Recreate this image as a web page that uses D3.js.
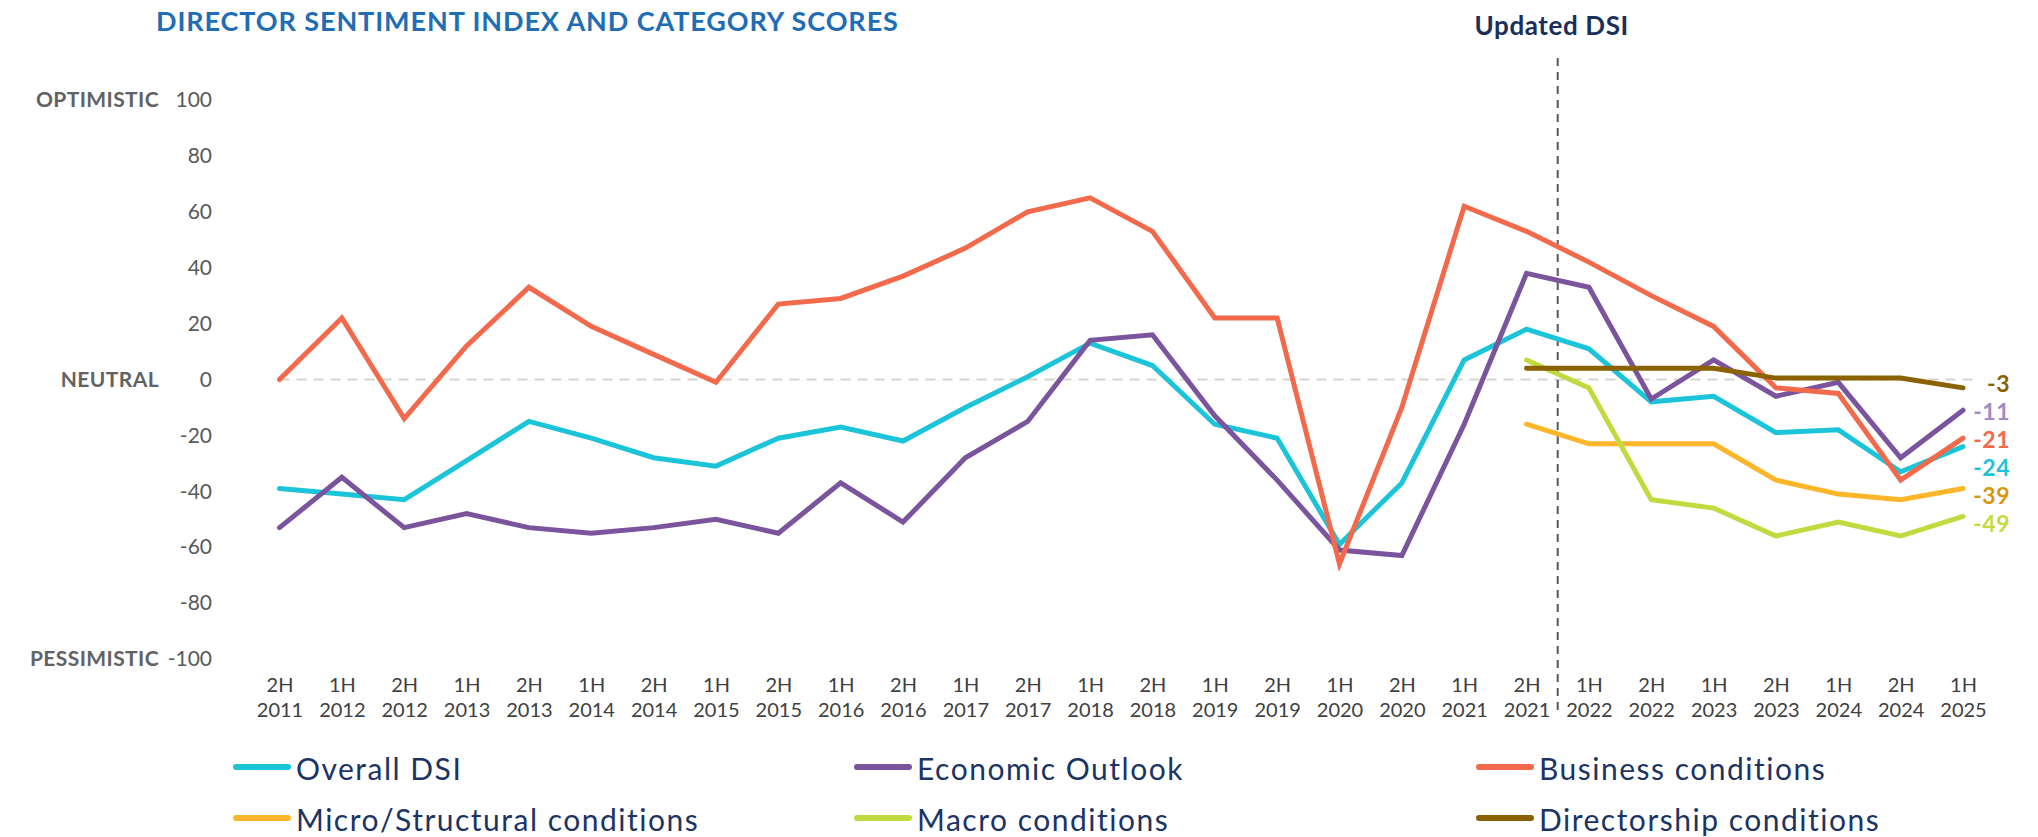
<!DOCTYPE html>
<html>
<head>
<meta charset="utf-8">
<script src="https://d3js.org/d3.v7.min.js"></script>
<style>
  body { margin: 0; background: #fff; }
  text { font-family: Lato, "Open Sans", sans-serif; }
</style>
</head>
<body>
<div id="my_dataviz"></div>
<script>
// periods on the x axis
var periods = ["2H 2011","1H 2012","2H 2012","1H 2013","2H 2013","1H 2014","2H 2014","1H 2015",
  "2H 2015","1H 2016","2H 2016","1H 2017","2H 2017","1H 2018","2H 2018","1H 2019","2H 2019",
  "1H 2020","2H 2020","1H 2021","2H 2021","1H 2022","2H 2022","1H 2023","2H 2023","1H 2024",
  "2H 2024","1H 2025"];

// series values (null = not measured yet)
var overallDSI = [-39,-41,-43,-29,-15,-21,-28,-31,-21,-17,-22,-10,1,13,5,-16,-21,-59,-37,7,18,11,-8,-6,-19,-18,-33,-24];
var economicOutlook = [-53,-35,-53,-48,-53,-55,-53,-50,-55,-37,-51,-28,-15,14,16,-13,-36,-61,-63,-16,38,33,-7,7,-6,-1,-28,-11];
var businessConditions = [0,22,-14,12,33,19,9,-1,27,29,37,47,60,65,53,22,22,-66,-10,62,53,42,30,19,-3,-5,-36,-21];
var microConditions = [null,null,null,null,null,null,null,null,null,null,null,null,null,null,null,null,null,
  null,null,null,-16,-23,-23,-23,-36,-41,-43,-39];
var macroConditions = [null,null,null,null,null,null,null,null,null,null,null,null,null,null,null,null,null,
  null,null,null,7,-3,-43,-46,-56,-51,-56,-49];
var directorshipConditions = [null,null,null,null,null,null,null,null,null,null,null,null,null,null,null,null,null,
  null,null,null,4,4,4,4,0.5,0.5,0.5,-3];

var seriesNames = ["Overall DSI","Economic Outlook","Business conditions",
  "Micro/Structural conditions","Macro conditions","Directorship conditions"];
var seriesColors = ["#1CC4D9","#7A559D","#F26A4B","#FDB52A","#C2D93F","#8A6200"];
var labelColors = ["#1CC4D9","#A08AC6","#F26A4B","#D8960F","#C2D93F","#8A6200"];
var seriesValues = [overallDSI, economicOutlook, businessConditions,
  microConditions, macroConditions, directorshipConditions];

var yTicks = [100,80,60,40,20,0,-20,-40,-60,-80,-100];
var sideLabels = [[100,"OPTIMISTIC"],[0,"NEUTRAL"],[-100,"PESSIMISTIC"]];
var updatedAfter = "2H 2021";

var width = 2038, height = 837;

// plain hyphen for negatives, like the original
var fmt = d => (d < 0 ? "-" : "") + Math.round(Math.abs(d));

var svg = d3.select("#my_dataviz")
  .append("svg")
    .attr("width", width)
    .attr("height", height)

svg.append("rect").attr("width", width).attr("height", height).attr("fill", "#fff")

// scales
var x = d3.scalePoint()
  .domain(periods)
  .range([279.5, 1963]);

var y = d3.scaleLinear()
  .domain([-100, 100])
  .range([659, 100]);

// title
svg.append("text")
  .attr("x", 156)
  .attr("y", 31)
  .style("font-size", "27px")
  .style("letter-spacing", "0.9px")
  .style("font-weight", "bold")
  .style("fill", "#1F6DB5")
  .text("DIRECTOR SENTIMENT INDEX AND CATEGORY SCORES");

// y axis labels (no axis line)
var yAxis = svg.append("g")
  .attr("transform", "translate(212,0)")
  .call(d3.axisLeft(y).tickValues(yTicks).tickSize(0).tickPadding(0).tickFormat(fmt));
yAxis.select(".domain").remove();
yAxis.selectAll("text")
  .style("font-family", "Lato, sans-serif")
  .style("font-size", "21px")
  .style("fill", "#595959");

svg.selectAll(".side")
  .data(sideLabels)
  .enter()
  .append("text")
    .attr("x", 159)
    .attr("y", d => y(d[0]))
    .attr("dy", "0.35em")
    .attr("text-anchor", "end")
    .style("font-size", "21px")
    .style("letter-spacing", "0.4px")
    .style("font-weight", "bold")
    .style("fill", "#626262")
    .text(d => d[1]);

// x axis labels on two lines
var xAxis = svg.append("g")
  .attr("transform", "translate(0,672)")
  .call(d3.axisBottom(x).tickSize(0).tickPadding(0).tickFormat(""));
xAxis.select(".domain").remove();
xAxis.selectAll(".tick").append("text")
  .attr("text-anchor", "middle")
  .style("font-size", "20px")
  .style("fill", "#404040")
  .selectAll("tspan")
  .data(d => d.split(" "))
  .enter()
  .append("tspan")
    .attr("x", 0)
    .attr("y", (d, i) => i * 25 + 20)
    .text(d => d);

// neutral line
svg.append("line")
  .attr("x1", x(periods[0]))
  .attr("x2", x(periods[periods.length - 1]) + 12)
  .attr("y1", y(0))
  .attr("y2", y(0))
  .style("stroke", "#D6D4CC")
  .style("stroke-width", 2)
  .style("stroke-dasharray", "10,7");

// updated DSI marker
var updX = x(updatedAfter) + x.step() / 2;
svg.append("line")
  .attr("x1", updX)
  .attr("x2", updX)
  .attr("y1", 58)
  .attr("y2", 711)
  .style("stroke", "#595959")
  .style("stroke-width", 2)
  .style("stroke-dasharray", "8,6");

svg.append("text")
  .attr("x", updX - 6)
  .attr("y", 35)
  .attr("text-anchor", "middle")
  .style("font-size", "26px")
  .style("letter-spacing", "0.6px")
  .style("font-weight", "bold")
  .style("fill", "#1B2F5A")
  .text("Updated DSI");

// lines
var line = d3.line()
  .defined(d => d != null)
  .x((d, i) => x(periods[i]))
  .y(d => y(d));

svg.append("g")
  .selectAll("path")
  .data(seriesValues)
  .enter()
  .append("path")
    .attr("d", d => line(d))
    .style("fill", "none")
    .style("stroke", (d, i) => seriesColors[i])
    .style("stroke-width", 5)
    .style("stroke-linejoin", "miter")
    .style("stroke-linecap", "round");

// end labels, pushed apart so they don't overlap
var ends = seriesValues.map((v, i) => ({value: v[v.length - 1], color: labelColors[i]}))
  .sort((a, b) => b.value - a.value);
var prev = -Infinity;
ends.forEach(function (e) {
  e.pos = Math.max(y(e.value) - 4, prev + 28);
  prev = e.pos;
});

svg.selectAll(".endlabel")
  .data(ends)
  .enter()
  .append("text")
    .attr("x", 2010)
    .attr("y", d => d.pos)
    .attr("dy", "0.35em")
    .attr("text-anchor", "end")
    .style("font-size", "23px")
    .style("letter-spacing", "0.5px")
    .style("font-weight", "bold")
    .style("fill", d => d.color)
    .text(d => fmt(d.value));

// legend: 3 columns, 2 rows
var legendX = [234, 855, 1477];
var legendY = [767, 818];
var legend = svg.selectAll(".legend")
  .data(seriesNames)
  .enter()
  .append("g")
    .attr("transform", (d, i) => "translate(" + legendX[i % 3] + "," + legendY[Math.floor(i / 3)] + ")");

legend.append("line")
  .attr("x1", 2)
  .attr("x2", 54)
  .style("stroke", (d, i) => seriesColors[i])
  .style("stroke-width", 6)
  .style("stroke-linecap", "round");

legend.append("text")
  .attr("x", 62)
  .attr("y", 13)
  .style("font-size", "30px")
  .style("letter-spacing", "1.5px")
  .style("fill", "#1B3463")
  .text(d => d);
</script>
</body>
</html>
